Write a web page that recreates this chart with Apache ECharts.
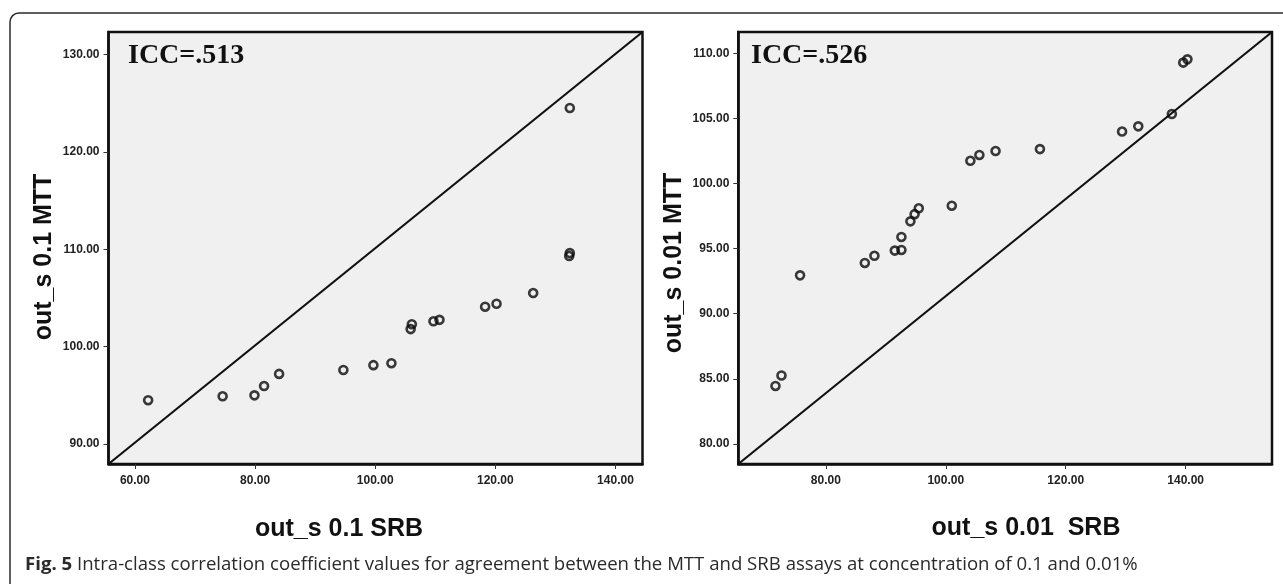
<!DOCTYPE html>
<html>
<head>
<meta charset="utf-8">
<script src="https://cdn.jsdelivr.net/npm/echarts@6/dist/echarts.min.js"></script>
<style>
html,body{margin:0;padding:0;background:#fff;}
#c{width:1283px;height:584px;}
</style>
</head>
<body>
<div id="c"></div>
<script>
// ---- data ----
const leftX = [62.2, 74.6, 79.9, 81.5, 84.0, 94.7, 99.7, 102.7, 105.9, 106.1, 109.7, 110.7, 118.3, 120.2, 126.3, 132.4, 132.3, 132.4];
const leftY = [94.5, 94.9, 95.0, 95.95, 97.2, 97.6, 98.1, 98.3, 101.8, 102.3, 102.6, 102.75, 104.1, 104.4, 105.5, 124.5, 109.3, 109.6];
const rightX = [71.6, 72.6, 75.7, 86.5, 88.1, 91.5, 92.6, 92.6, 94.1, 94.8, 95.5, 101.0, 104.1, 105.6, 108.3, 115.7, 129.4, 132.1, 137.7, 139.6, 140.3];
const rightY = [84.45, 85.25, 92.95, 93.9, 94.45, 94.85, 94.9, 95.9, 97.1, 97.65, 98.1, 98.3, 101.75, 102.2, 102.5, 102.65, 104.0, 104.4, 105.35, 109.3, 109.55];

const leftXRange = [55.6, 144.5];
const leftYRange = [87.95, 132.3];
const rightXRange = [65.4, 154.4];
const rightYRange = [78.45, 111.65];

const leftXTicks = [60, 80, 100, 120, 140];
const leftYTicks = [90, 100, 110, 120, 130];
const rightXTicks = [80, 100, 120, 140];
const rightYTicks = [80, 85, 90, 95, 100, 105, 110];

const leftICC = 'ICC=.513';
const rightICC = 'ICC=.526';
const leftXTitle = 'out_s 0.1 SRB';
const leftYTitle = 'out_s 0.1 MTT';
const rightXTitle = 'out_s 0.01  SRB';
const rightYTitle = 'out_s 0.01 MTT';
const captionBold = 'Fig. 5';
const captionText = ' Intra-class correlation coefficient values for agreement between the MTT and SRB assays at concentration of 0.1 and 0.01%';

// ---- build ----
const zip = (a, b) => a.map((v, i) => [v, b[i]]);
const tickFont = {fontFamily: 'Liberation Sans, Arial, sans-serif', fontWeight: 'bold', fontSize: 12, color: '#222'};

function valueAxis(range, ticks, gridIndex, isX) {
  return {
    type: 'value', gridIndex: gridIndex, min: range[0], max: range[1],
    splitLine: {show: false},
    axisLine: {show: true, onZero: false, lineStyle: {color: '#111', width: 2.5}},
    axisTick: {show: true, length: 5, customValues: ticks, lineStyle: {color: '#333', width: 1}},
    axisLabel: Object.assign({show: true, customValues: ticks, margin: isX ? 11 : 9,
      formatter: v => Number(v).toFixed(2)}, tickFont)
  };
}

const chart = echarts.init(document.getElementById('c'), null, {renderer: 'canvas'});
const scatterStyle = {
  type: 'scatter', symbol: 'circle', symbolSize: 8,
  itemStyle: {color: 'rgba(0,0,0,0)', borderColor: '#0a0a0a', borderWidth: 2.6},
  silent: true, z: 5
};
const titleFont = 'bold 25px "Liberation Sans", Arial, sans-serif';
chart.setOption({
  animation: false,
  backgroundColor: '#fff',
  grid: [
    {left: 108.5, top: 32, width: 534, height: 432, show: true, backgroundColor: '#f0f0f0', borderColor: '#111', borderWidth: 2.5},
    {left: 738.3, top: 32, width: 533.7, height: 432, show: true, backgroundColor: '#f0f0f0', borderColor: '#111', borderWidth: 2.5}
  ],
  xAxis: [
    valueAxis(leftXRange, leftXTicks, 0, true),
    valueAxis(rightXRange, rightXTicks, 1, true)
  ],
  yAxis: [
    valueAxis(leftYRange, leftYTicks, 0, false),
    valueAxis(rightYRange, rightYTicks, 1, false)
  ],
  series: [
    {type: 'line', xAxisIndex: 0, yAxisIndex: 0, data: [[leftXRange[0], leftYRange[0]], [leftXRange[1], leftYRange[1]]],
      symbol: 'none', lineStyle: {color: '#111', width: 2.2}, silent: true, z: 3},
    {type: 'line', xAxisIndex: 1, yAxisIndex: 1, data: [[rightXRange[0], rightYRange[0]], [rightXRange[1], rightYRange[1]]],
      symbol: 'none', lineStyle: {color: '#111', width: 2.2}, silent: true, z: 3},
    Object.assign({xAxisIndex: 0, yAxisIndex: 0, data: zip(leftX, leftY)}, scatterStyle),
    Object.assign({xAxisIndex: 1, yAxisIndex: 1, data: zip(rightX, rightY)}, scatterStyle)
  ],
  graphic: [
    {type: 'rect', shape: {x: 10, y: 13, width: 1300, height: 620, r: 9}, style: {fill: 'none', stroke: '#2b2b2b', lineWidth: 1.5}, z: 0, silent: true},
    {type: 'text', x: 128, y: 42, style: {text: leftICC, font: 'bold 28px "Liberation Serif", "Times New Roman", serif', fill: '#111'}, z: 10},
    {type: 'text', x: 751, y: 42, style: {text: rightICC, font: 'bold 28px "Liberation Serif", "Times New Roman", serif', fill: '#111'}, z: 10},
    {type: 'text', x: 339, y: 529, style: {text: leftXTitle, font: titleFont, fill: '#111', align: 'center', verticalAlign: 'middle'}, z: 10},
    {type: 'text', x: 1026, y: 528, style: {text: rightXTitle, font: titleFont, fill: '#111', align: 'center', verticalAlign: 'middle'}, z: 10},
    {type: 'text', x: 44, y: 257, rotation: Math.PI / 2, style: {text: leftYTitle, font: titleFont, fill: '#111', align: 'center', verticalAlign: 'middle'}, z: 10},
    {type: 'text', x: 674, y: 263, rotation: Math.PI / 2, style: {text: rightYTitle, font: titleFont, fill: '#111', align: 'center', verticalAlign: 'middle'}, z: 10},
    {type: 'text', x: 25, y: 565, style: {
      text: '{b|' + captionBold + '}{r|' + captionText + '}', verticalAlign: 'middle',
      rich: {
        b: {font: 'bold 18.6px "Open Sans", "Noto Sans", sans-serif', fill: '#2a2a2a'},
        r: {font: '18.6px "Open Sans", "Noto Sans", sans-serif', fill: '#2a2a2a'}
      }}, z: 10}
  ]
});
</script>
</body>
</html>
